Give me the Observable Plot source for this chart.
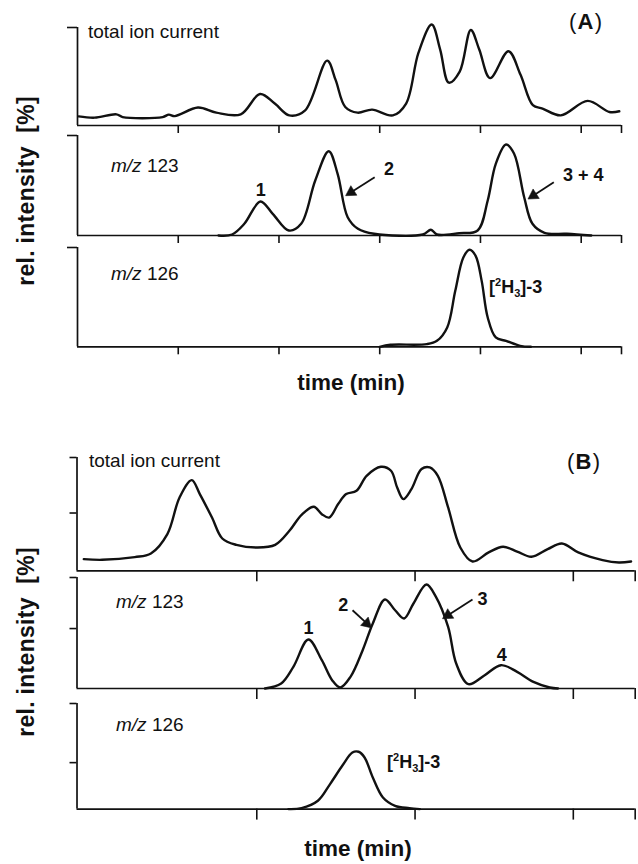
<!DOCTYPE html>
<html><head><meta charset="utf-8">
<script src="https://cdn.jsdelivr.net/npm/d3@7"></script>
<script src="https://cdn.jsdelivr.net/npm/@observablehq/plot@0.6"></script>
<style>
body{margin:0;background:#fff;}
#chart{position:relative;width:638px;height:864px;overflow:hidden;background:#fff;color:#111;font-family:"Liberation Sans",Arial,Helvetica,sans-serif;}
#chart g[aria-label="x-axis tick"], #chart g[aria-label="y-axis tick"]{stroke-width:1.6px;}
</style>
</head><body><div id="chart"></div>
<script>
// ---------- data (time in arbitrary min units, relative intensity in %) ----------
// Panel A
const timeA_tic = [0.06,0.85,1.93,2.24,4.23,4.53,4.83,5.98,6.89,8.10,9.06,9.79,10.51,11.30,12.39,12.81,13.29,13.90,14.62,15.65,16.31,16.92,17.58,18.00,18.43,18.97,19.52,19.94,20.48,21.39,21.99,22.60,23.08,23.99,25.32,26.40,26.89];
const relA_tic  = [9.3,8.0,11.4,8.6,8.6,11.1,9.6,18.3,13.1,11.4,32.1,22.4,10.3,15.5,66.2,46.5,18.9,13.1,16.2,10.3,22.4,74.1,103,77.5,43.7,55,97.5,77.5,48.3,75.8,51.7,20.7,17.3,10.3,25.1,13.8,14.5];
const timeA_123 = [7.0,7.67,8.28,9.08,9.69,10.49,11.10,11.80,12.47,12.91,13.41,13.92,14.72,17.14,17.54,17.84,18.95,19.86,20.36,20.76,21.27,21.67,22.17,22.58,23.18,24.29,25.5];
const relA_123  = [0,1,11.7,34,21.7,5,11.7,55,84.3,61.7,18.3,6.7,1.7,1,5.7,1,2.3,5,35,71.7,91,81.7,38.3,11.7,2.7,1.7,0];
const timeA_126 = [15.0,15.53,17.34,17.84,18.35,18.75,19.15,19.46,19.76,20.06,20.36,20.76,21.27,21.97,22.5];
const relA_126  = [0,2,2.7,6,19.5,56.4,89.9,97.7,91.6,66.4,29.5,9.4,6,1,0];
const xDomainA = [0, 27];
const xTicksA = [5, 10, 15, 20, 25, 27];

// Panel B
const timeB_tic = [9.07,10.23,12.29,13.31,14.35,15.12,15.89,16.40,17.17,17.82,18.71,20,21.16,22.06,22.83,23.60,24.11,24.57,25.14,25.65,26.30,26.94,27.84,28.48,28.87,29.26,29.77,30.41,30.93,31.44,32.09,32.86,33.63,34.65,35.56,36.45,37.35,38.38,39.28,40.31,41.85,42.88,43.65];
const relB_tic  = [10.3,9.7,12.1,15.3,32.4,64.7,80,67.7,47,28.5,22.9,20.6,22.9,35.3,49.4,56.5,50,47,58.9,67.7,70.6,83.8,91.8,88.3,73.5,63.3,72.1,89.8,91.2,83.8,55.9,20.6,8.2,16.2,21.2,17,12.4,19.1,24.1,16.2,9.4,7.3,8.2];
const timeB_123 = [20.52,21.54,22.31,23.26,24.11,24.76,25.27,25.92,26.69,27.33,28.10,28.74,29.31,29.90,30.72,31.32,32.09,32.60,33.37,34.40,35.43,36.45,37.48,38.51,39.03];
const relB_123  = [0,4.5,19.5,44.1,25.5,7.5,0.9,10.5,34.5,58.6,80.2,70.5,63.1,76.6,93.7,82.5,55.5,22.5,3.9,12,21,15,5.9,0.9,0];
const timeB_126 = [22.0,22.83,23.86,24.63,25.40,26.04,26.43,26.81,27.33,27.97,28.74,29.64,30.3];
const relB_126  = [0,0.9,7.9,23.7,41,53.6,54.3,48.9,29.9,11,3.1,0.9,0];
const xDomainB = [8.64, 43.91];
const xTicksB = [20, 30, 40, 43.91];

// y ticks (relative intensity) per trace
const yTicksA = [100];
const yTicksB_tic = [51, 100];
const yTicksB_123 = [54, 100];
const yTicksB_126 = [44, 100];

// peak annotations (label text, time, rel. intensity)
const notesA_label = ["1", "2", "3 + 4"];
const notesA_time  = [9.10, 15.46, 25.10];
const notesA_rel   = [45, 66.5, 60];
const arrowsA_from_t = [14.75, 23.64], arrowsA_from_r = [58.3, 53.3];
const arrowsA_to_t   = [13.58, 22.63], arrowsA_to_r   = [43.3, 40];

const notesB_label = ["1", "2", "3", "4"];
const notesB_time  = [23.27, 25.46, 34.26, 35.48];
const notesB_rel   = [54.5, 74.6, 80.5, 30];
const arrowsB_from_t = [26.05, 33.63], arrowsB_from_r = [70.5, 80.2];
const arrowsB_to_t   = [26.95, 32.08], arrowsB_to_r   = [58.6, 66.0];

// ---------- drawing ----------
const FONT = '"Liberation Sans", Arial, Helvetica, sans-serif';
const INK = "#111";
const chart = document.getElementById("chart");

function zipPts(ts, vs) { return ts.map((t, i) => ({t, v: vs[i]})); }
function zipNotes(l, ts, vs) { return l.map((s, i) => ({label: s, t: ts[i], v: vs[i]})); }
function zipArrows(ft, fr, tt, tr) { return ft.map((d, i) => ({x1: d, y1: fr[i], x2: tt[i], y2: tr[i]})); }

function trace(cfg) {
  const mt = 14, mb = 16;
  const kx = (cfg.right - cfg.left) / (cfg.domain[1] - cfg.domain[0]);
  const ky = (cfg.base - cfg.top) / 100;
  const marks = [
    Plot.ruleY([0], {stroke: INK, strokeWidth: 1.7}),
    Plot.ruleX([cfg.domain[0]], {y1: 0, y2: 100, stroke: INK, strokeWidth: 1.7}),
    Plot.line(zipPts(cfg.times, cfg.values), {x: "t", y: "v", curve: "catmull-rom", stroke: INK, strokeWidth: 2.4, strokeLinejoin: "round"})
  ];
  if (cfg.notes) marks.push(Plot.text(cfg.notes, {x: "t", y: "v", text: "label", fontSize: 18, fontWeight: "bold", fill: INK}));
  if (cfg.arrows) {
    marks.push(Plot.link(cfg.arrows, {x1: "x1", y1: "y1", x2: "x2", y2: "y2", stroke: INK, strokeWidth: 1.8}));
    marks.push(Plot.dot(cfg.arrows, {
      x: "x2", y: "y2", symbol: "triangle", r: 4.2, fill: INK, stroke: INK, strokeWidth: 0.5,
      rotate: d => Math.atan2(-(d.y2 - d.y1) * ky, (d.x2 - d.x1) * kx) * 180 / Math.PI + 90
    }));
  }
  const svg = Plot.plot({
    width: 638,
    height: cfg.base - cfg.top + mt + mb,
    marginLeft: cfg.left, marginRight: 638 - cfg.right, marginTop: mt, marginBottom: mb,
    style: {position: "absolute", left: "0px", top: (cfg.top - mt) + "px", background: "transparent", overflow: "visible", fontFamily: FONT, color: INK},
    x: {domain: cfg.domain, ticks: cfg.xTicks, tickSize: cfg.xTickLen, tickFormat: () => "", label: null},
    y: {domain: [0, 100], ticks: cfg.yTicks, tickSize: cfg.yTickLen, tickFormat: () => "", label: null},
    marks
  });
  chart.appendChild(svg);
}

const A = {left: 77, right: 621, domain: xDomainA, xTicks: xTicksA, xTickLen: 8, yTickLen: 10, yTicks: yTicksA};
trace({...A, top: 27, base: 125, times: timeA_tic, values: relA_tic});
trace({...A, top: 135, base: 235, times: timeA_123, values: relA_123,
  notes: zipNotes(notesA_label, notesA_time, notesA_rel),
  arrows: zipArrows(arrowsA_from_t, arrowsA_from_r, arrowsA_to_t, arrowsA_to_r)});
trace({...A, top: 246.7, base: 346, times: timeA_126, values: relA_126});

const B = {left: 76.5, right: 634.7, domain: xDomainB, xTicks: xTicksB, xTickLen: 11, yTickLen: 7};
trace({...B, top: 456.7, base: 570, times: timeB_tic, values: relB_tic, yTicks: yTicksB_tic});
trace({...B, top: 577.3, base: 688.3, times: timeB_123, values: relB_123, yTicks: yTicksB_123,
  notes: zipNotes(notesB_label, notesB_time, notesB_rel),
  arrows: zipArrows(arrowsB_from_t, arrowsB_from_r, arrowsB_to_t, arrowsB_to_r)});
trace({...B, top: 702.7, base: 808.3, times: timeB_126, values: relB_126, yTicks: yTicksB_126});

// ---------- text overlay ----------
const ov = d3.select(chart).append("svg")
  .attr("width", 638).attr("height", 864)
  .style("position", "absolute").style("left", "0px").style("top", "0px")
  .style("font-family", FONT).attr("fill", INK);

function txt(x, y, size, parts, opts = {}) {
  const t = ov.append("text").attr("x", x).attr("y", y).attr("font-size", size)
    .attr("text-anchor", opts.anchor || "start");
  if (opts.weight) t.attr("font-weight", opts.weight);
  if (opts.spacing) t.attr("letter-spacing", opts.spacing);
  if (opts.rotate) t.attr("transform", `rotate(${opts.rotate},${x},${y})`);
  for (const p of parts) {
    const s = t.append("tspan").text(p.s);
    if (p.i) s.attr("font-style", "italic");
    if (p.b) s.attr("font-weight", "bold");
    if (p.fs) s.attr("font-size", p.fs);
    if (p.dy) s.attr("dy", p.dy);
  }
  return t;
}
function isotope(x, y) {
  txt(x, y, 18, [{s: "["}, {s: "2", fs: 11, dy: -7}, {s: "H", dy: 7}, {s: "3", fs: 11, dy: 4}, {s: "]-3", dy: -4}], {weight: "bold"});
}

// Panel A
txt(88, 38, 19, [{s: "total ion current"}]);
txt(569, 29, 22, [{s: "("}, {s: "A", b: 1}, {s: ")"}], {spacing: 1.2});
txt(111, 172, 19, [{s: "m/z", i: 1}, {s: " 123"}]);
txt(111, 280, 19, [{s: "m/z", i: 1}, {s: " 126"}]);
isotope(489, 293);
txt(351, 390, 22.5, [{s: "time (min)"}], {anchor: "middle", weight: "bold"});
txt(34, 191, 23, [{s: "rel. intensity\u00a0\u00a0[%]"}], {anchor: "middle", weight: "bold", rotate: -90, spacing: 0.3});

// Panel B
txt(89, 467, 19, [{s: "total ion current"}]);
txt(567, 469, 22, [{s: "("}, {s: "B", b: 1}, {s: ")"}], {spacing: 1.2});
txt(116, 608, 19, [{s: "m/z", i: 1}, {s: " 123"}]);
txt(116, 731, 19, [{s: "m/z", i: 1}, {s: " 126"}]);
isotope(387, 768);
txt(358, 856, 22.5, [{s: "time (min)"}], {anchor: "middle", weight: "bold"});
txt(34, 642, 23, [{s: "rel. intensity\u00a0\u00a0[%]"}], {anchor: "middle", weight: "bold", rotate: -90, spacing: 0.3});
</script>
</body></html>
